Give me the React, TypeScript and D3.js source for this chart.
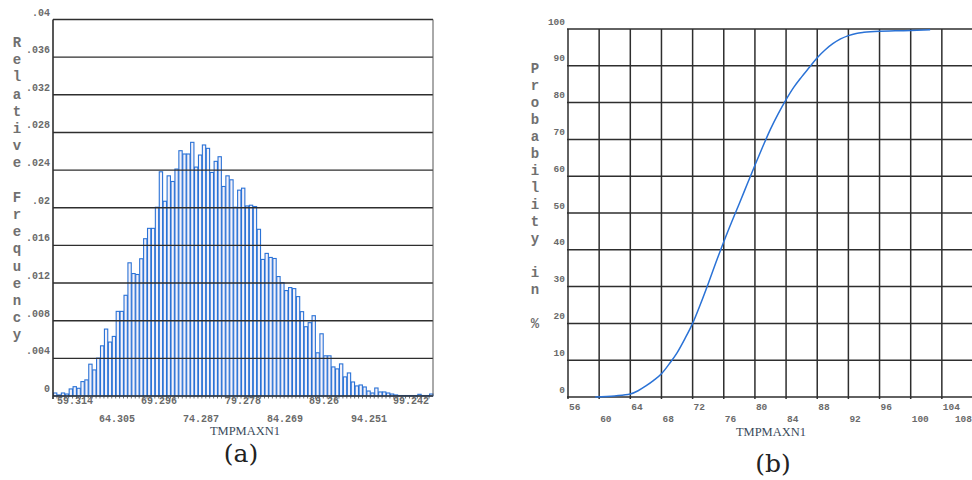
import React from "react";
import * as d3 from "d3";

// ---------- Data ----------
const histMin = 58.84;
const histMax = 104.0;
const relFreq = [
  0.00032, 0.00011, 0.00032, 0.00021, 0.00075, 0.00099, 0.00082, 0.00153, 0.00171, 0.00338,
  0.00277, 0.00402, 0.00533, 0.00711, 0.00573, 0.00633, 0.00899, 0.00899, 0.0107, 0.01415,
  0.01301, 0.01291, 0.01458, 0.01671, 0.01781, 0.01781, 0.02005, 0.02382, 0.02069, 0.02339,
  0.02279, 0.02411, 0.02606, 0.02571, 0.02571, 0.02695, 0.02432, 0.0256, 0.02667, 0.02631,
  0.02375, 0.02493, 0.02542, 0.02226, 0.02339, 0.02297, 0.02005, 0.02187, 0.02208, 0.02019,
  0.02027, 0.02013, 0.01771, 0.01451, 0.01515, 0.01472, 0.01461, 0.01269, 0.01205, 0.0112,
  0.01152, 0.01141, 0.01056, 0.00896, 0.00736, 0.00779, 0.00853, 0.00459, 0.00661, 0.00427,
  0.00427, 0.00309, 0.00288, 0.00341, 0.00203, 0.00245, 0.00149, 0.00107, 0.00117, 0.00096,
  0.00053, 0.00032, 0.00085, 0.00043, 0.00043, 0.00032, 0.00021, 0.00011, 0.00005, 0.00005,
  0.00005, 0.00005, 0.00005, 0.00018, 0.00005, 0.00005, 0.00021,
];
const histTicks = [59.314, 64.305, 69.296, 74.287, 79.278, 84.269, 89.26, 94.251, 99.242];
const histTickLabels = ["59.314", "64.305", "69.296", "74.287", "79.278", "84.269", "89.26", "94.251", "99.242"];
const freqTicks = [0, 0.004, 0.008, 0.012, 0.016, 0.02, 0.024, 0.028, 0.032, 0.036, 0.04];
const freqTickLabels = ["0", ".004", ".008", ".012", ".016", ".02", ".024", ".028", ".032", ".036", ".04"];

const cdfX = [59.5, 62, 64, 65, 66, 67, 68, 69, 70, 71, 72, 73, 74, 75, 76, 77, 78, 79, 80, 81, 82, 83, 84, 85, 86, 87, 88, 89, 90, 91, 92, 93, 94, 96, 98, 100, 102.5];
const cdfY = [0, 0.3, 0.8, 1.7, 3, 4.5, 6.3, 9, 12, 15.8, 20, 25.2, 30.8, 36.6, 42.2, 47.5, 52.6, 57.8, 63, 68, 72.8, 77, 80.8, 84.2, 87, 89.6, 92.2, 94.3, 96, 97.3, 98.2, 98.8, 99.1, 99.4, 99.5, 99.6, 99.8];
const probXTicks = [56, 60, 64, 68, 72, 76, 80, 84, 88, 92, 96, 100, 104, 108];
const probYTicks = [0, 10, 20, 30, 40, 50, 60, 70, 80, 90, 100];

const titleA = "Relative Frequency";
const titleB = "Probability in %";
const xTitle = "TMPMAXN1";

// ---------- Styles ----------
const mono = "'Liberation Mono', 'DejaVu Sans Mono', monospace";
const serif = "'DejaVu Serif', 'Liberation Serif', serif";
const gridColor = "#2e2e2e";
const labelColor = "#6a6a6a";
const blue = "#2a72d6";

export default function App() {
  // Left chart scales
  const ax0 = 53, ax1 = 433, ay0 = 396, ay1 = 19.5;
  const xA = d3.scaleLinear().domain([histMin, histMax]).range([ax0, ax1]);
  const yA = d3.scaleLinear().domain([0, 0.04]).range([ay0, ay1]);
  const binW = (histMax - histMin) / relFreq.length;

  // Right chart scales
  const bx0 = 568, bx1 = 973, by0 = 397, by1 = 29;
  const xB = d3.scaleLinear().domain([56, 108]).range([bx0, bx1]);
  const yB = d3.scaleLinear().domain([0, 100]).range([by0, by1]);
  const line = d3
    .line<number>()
    .x((_, i) => xB(cdfX[i]))
    .y((d) => yB(d))
    .curve(d3.curveMonotoneX);

  return (
    <svg width={972} height={480} style={{ position: "absolute", left: 0, top: 0, background: "#fff" }}>
      <rect x={0} y={0} width={972} height={480} fill="#fff" />

      {/* ---------- (a) histogram ---------- */}
      <g>
        {relFreq.map((f, i) => {
          const x0 = xA(histMin + i * binW);
          const x1 = xA(histMin + (i + 1) * binW);
          const y = yA(f);
          return (
            <rect
              key={i}
              x={x0 + 0.5}
              y={y}
              width={Math.max(0, x1 - x0 - 0.6)}
              height={ay0 - y}
              fill="#f4f2fa"
              stroke={blue}
              strokeWidth={1.1}
            />
          );
        })}
        {freqTicks.map((t, i) => (
          <g key={i}>
            <line x1={ax0} x2={ax1} y1={yA(t)} y2={yA(t)} stroke={gridColor} strokeWidth={1.4} />
            <text
              x={50}
              y={yA(t) - 4}
              textAnchor="end"
              fontFamily={mono}
              fontSize={10}
              fontWeight="bold"
              fill={labelColor}
            >
              {freqTickLabels[i]}
            </text>
          </g>
        ))}
        <line x1={ax0} x2={ax0} y1={ay1} y2={ay0 + 3} stroke={gridColor} strokeWidth={1.6} />
        <line x1={ax1} x2={ax1} y1={ay1} y2={ay0} stroke="#555" strokeWidth={1} />
        {relFreq.map((_, i) => (
          <line
            key={"t" + i}
            x1={xA(histMin + i * binW)}
            x2={xA(histMin + i * binW)}
            y1={ay0}
            y2={ay0 + 2.5}
            stroke="#444"
            strokeWidth={0.8}
          />
        ))}
        {histTicks.map((t, i) => (
          <text
            key={i}
            x={xA(t)}
            y={i % 2 === 0 ? 404 : 422}
            fontFamily={mono}
            fontSize={10}
            fontWeight="bold"
            fill={labelColor}
          >
            {histTickLabels[i]}
          </text>
        ))}
        {titleA.split("").map((c, i) => (
          <text
            key={i}
            x={17}
            y={47 + i * 17.2}
            textAnchor="middle"
            fontFamily={mono}
            fontSize={14}
            fontWeight="bold"
            fill="#707070"
          >
            {c}
          </text>
        ))}
        <text x={245} y={435} textAnchor="middle" fontFamily="'Liberation Serif', serif" fontSize={12.5} fill="#3a4a5a">
          {xTitle}
        </text>
        <text x={241} y={462} textAnchor="middle" fontFamily={serif} fontSize={25} fill="#222">
          (a)
        </text>
      </g>

      {/* ---------- (b) cumulative distribution ---------- */}
      <g>
        {probYTicks.map((t, i) => (
          <g key={i}>
            <line x1={bx0 - 1} x2={bx1} y1={yB(t)} y2={yB(t)} stroke={gridColor} strokeWidth={1.5} />
            <text
              x={565}
              y={yB(t) - 4.5}
              textAnchor="end"
              fontFamily={mono}
              fontSize={9.5}
              fontWeight="bold"
              fill={labelColor}
            >
              {String(t)}
            </text>
          </g>
        ))}
        {probXTicks.map((t, i) => (
          <g key={i}>
            <line x1={xB(t)} x2={xB(t)} y1={by1} y2={by0 + 2} stroke={gridColor} strokeWidth={1.5} />
            <text
              x={t === 108 ? 972 : xB(t) + 1}
              y={i % 2 === 0 ? 410 : 422}
              textAnchor={t === 108 ? "end" : "start"}
              fontFamily={mono}
              fontSize={9.5}
              fontWeight="bold"
              fill={labelColor}
            >
              {String(t)}
            </text>
          </g>
        ))}
        <path d={line(cdfY) || ""} fill="none" stroke={blue} strokeWidth={1.5} />
        {titleB.split("").map((c, i) => (
          <text
            key={i}
            x={535}
            y={73 + i * 17}
            textAnchor="middle"
            fontFamily={mono}
            fontSize={14}
            fontWeight="bold"
            fill="#707070"
          >
            {c}
          </text>
        ))}
        <text x={771} y={436} textAnchor="middle" fontFamily="'Liberation Serif', serif" fontSize={12.5} fill="#3a4a5a">
          {xTitle}
        </text>
        <text x={773} y={472} textAnchor="middle" fontFamily={serif} fontSize={25} fill="#222">
          (b)
        </text>
      </g>
    </svg>
  );
}
